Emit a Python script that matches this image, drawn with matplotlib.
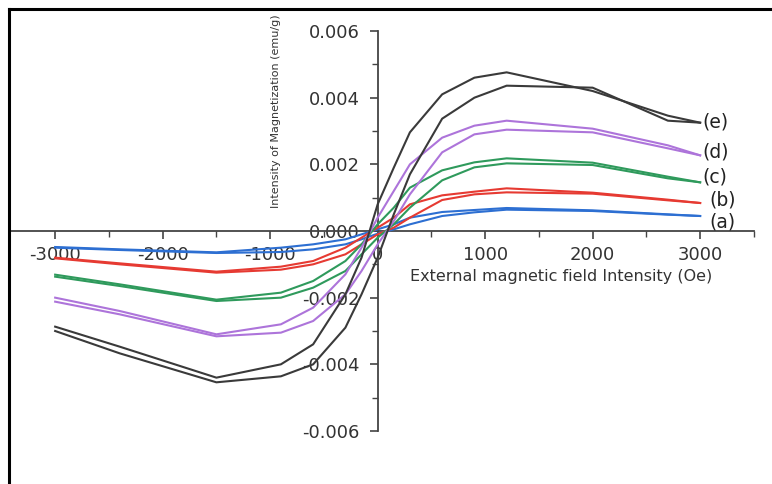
import matplotlib
matplotlib.use("Agg")
import matplotlib.pyplot as plt
from matplotlib.ticker import MultipleLocator, FormatStrFormatter
from matplotlib.lines import Line2D

plt.rcParams['axes.unicode_minus'] = False
plt.rcParams['font.family'] = ['DejaVu Sans']

# field values (Oe) for both branches
H = [-3000, -2400, -1500, -900, -600, -300, -150, 0, 150, 300, 600, 900, 1200, 2000, 2700, 3000]

# (a) blue
a_desc = [-0.00048, -0.00055, -0.00064, -0.0005, -0.0004, -0.00025, -0.0001, 0.00005, 0.0002, 0.0004, 0.00057, 0.00063, 0.00069, 0.00062, 0.0005, 0.00045]
a_asc = [-0.0005, -0.00057, -0.00066, -0.00063, -0.00055, -0.0004, -0.00025, -0.00008, 0.00005, 0.0002, 0.00045, 0.00056, 0.00064, 0.0006, 0.00049, 0.00045]
# (b) red
b_desc = [-0.0008, -0.00097, -0.00122, -0.00107, -0.0009, -0.0005, -0.0002, 0.0001, 0.0004, 0.0008, 0.00107, 0.00118, 0.00128, 0.00115, 0.00094, 0.00084]
b_asc = [-0.00082, -0.001, -0.00125, -0.00116, -0.001, -0.0007, -0.0004, -0.0001, 0.0001, 0.0004, 0.00093, 0.0011, 0.00116, 0.00112, 0.00092, 0.00084]
# (c) green
c_desc = [-0.00131, -0.0016, -0.00206, -0.00185, -0.0015, -0.0009, -0.0004, 0.0002, 0.0007, 0.0013, 0.00182, 0.00206, 0.00218, 0.00205, 0.00163, 0.00146]
c_asc = [-0.00137, -0.00165, -0.0021, -0.002, -0.0017, -0.0012, -0.0007, -0.0002, 0.0002, 0.0007, 0.00152, 0.00191, 0.00203, 0.00198, 0.00158, 0.00146]
# (d) purple
d_desc = [-0.002, -0.0024, -0.0031, -0.0028, -0.0023, -0.0013, -0.0005, 0.0004, 0.0012, 0.002, 0.0028, 0.00316, 0.00331, 0.00307, 0.00257, 0.00227]
d_asc = [-0.00212, -0.0025, -0.00316, -0.00305, -0.0027, -0.0019, -0.0012, -0.0004, 0.0003, 0.0011, 0.00236, 0.0029, 0.00304, 0.00296, 0.00248, 0.00227]
# (e) black
e_desc = [-0.00287, -0.00347, -0.0044, -0.004, -0.0034, -0.0019, -0.0008, 0.0008, 0.0019, 0.00296, 0.0041, 0.0046, 0.00476, 0.0042, 0.00346, 0.00325]
e_asc = [-0.003, -0.00367, -0.00454, -0.00436, -0.004, -0.0029, -0.0019, -0.0008, 0.0005, 0.0017, 0.00337, 0.004, 0.00436, 0.0043, 0.00331, 0.00325]

labels = ["(a)", "(b)", "(c)", "(d)", "(e)"]
label_x = [3090, 3090, 3020, 3020, 3020]
label_y = [0.00026, 0.00093, 0.00162, 0.00238, 0.00327]

series = [(a_desc, a_asc), (b_desc, b_asc), (c_desc, c_asc), (d_desc, d_asc), (e_desc, e_asc)]
colors = ['#2d6fd2', '#e63a32', '#2f9a5c', '#ad74da', '#3a3a3a']

fig = plt.figure(figsize=(7.72, 4.84), dpi=100)
W, Hpx = 772, 484
x0, x1 = -3420, 3500
y0, y1 = -0.0068, 0.0066
px_per_x = 107.5 / 1000
px_per_y = 33.33 / 0.001
left_px = 10
right_px = left_px + (x1 - x0) * px_per_x
top_px = 231 - y1 * px_per_y
bot_px = 231 - y0 * px_per_y
ax = fig.add_axes([left_px / W, (Hpx - bot_px) / Hpx, (right_px - left_px) / W, (bot_px - top_px) / Hpx])
ax.set_xlim(x0, x1)
ax.set_ylim(y0, y1)
ax.patch.set_alpha(0)

for (dsc, asc), col in zip(series, colors):
    ax.plot(H, dsc, color=col, lw=1.5, zorder=3)
    ax.plot(H, asc, color=col, lw=1.5, zorder=3)

for lab, lx, ly in zip(labels, label_x, label_y):
    ax.text(lx, ly, lab, fontsize=13.5, color='#222222', ha='left', va='center', zorder=4)

for s in ['top', 'right']:
    ax.spines[s].set_visible(False)
ax.spines['left'].set_position(('data', 0))
ax.spines['bottom'].set_position(('data', 0))
ax.spines['left'].set_bounds(-0.006, 0.006)
for s in ['left', 'bottom']:
    ax.spines[s].set_color('#444444')
    ax.spines[s].set_linewidth(1.3)

ax.xaxis.set_major_locator(MultipleLocator(1000))
ax.xaxis.set_minor_locator(MultipleLocator(500))
ax.yaxis.set_major_locator(MultipleLocator(0.002))
ax.yaxis.set_minor_locator(MultipleLocator(0.001))
ax.yaxis.set_major_formatter(FormatStrFormatter('%.3f'))
ax.set_yticks([-0.006, -0.004, -0.002, 0.0, 0.002, 0.004, 0.006])
ax.set_xticks([-3000, -2000, -1000, 0, 1000, 2000, 3000])
ax.tick_params(axis='both', which='major', direction='out', length=6, width=1.2, color='#444444', labelsize=13, labelcolor='#333333')
ax.tick_params(axis='both', which='minor', direction='out', length=4, width=1.0, color='#444444')
ax.tick_params(axis='x', pad=5)
ax.tick_params(axis='y', pad=7)

fig.text((395 + 727) / 2 / W, 1 - 277 / Hpx, "External magnetic field Intensity (Oe)", fontsize=11.5, color='#333333', ha='center', va='center')
fig.text(276 / W, 1 - 111 / Hpx, "Intensity of Magnetization (emu/g)", fontsize=8, color='#333333', rotation=90, ha='center', va='center')

# outer frame (top and left)
fig.add_artist(Line2D([9 / W, 1.0], [1 - 9 / Hpx, 1 - 9 / Hpx], color='black', lw=2.2, transform=fig.transFigure))
fig.add_artist(Line2D([9 / W, 9 / W], [1 - 9 / Hpx, 0.0], color='black', lw=2.2, transform=fig.transFigure))

fig.savefig("out.png", dpi=100)
